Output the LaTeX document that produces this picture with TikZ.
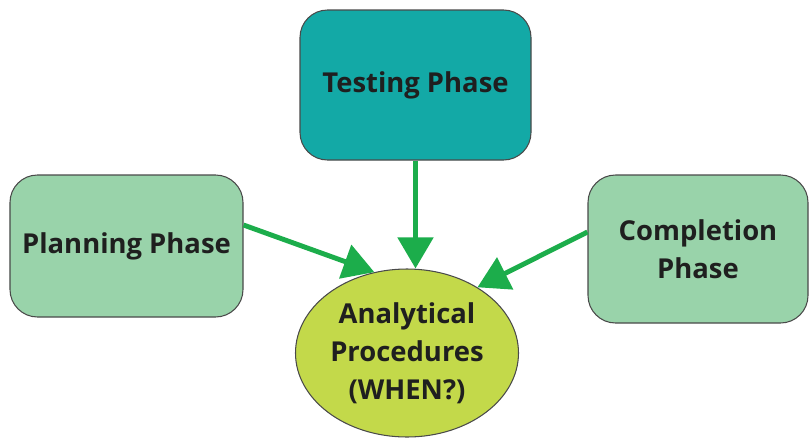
\documentclass[tikz,border=0pt]{standalone}
\usepackage{fontspec}
\setmainfont{Open Sans}
\usepackage{tikz}
\usetikzlibrary{calc}
\usetikzlibrary{arrows.meta}
\usetikzlibrary{shapes.geometric}
\definecolor{tealbox}{HTML}{13A9A6}
\definecolor{mintbox}{HTML}{99D3AA}
\definecolor{limeoval}{HTML}{C3D94A}
\definecolor{arrowgreen}{HTML}{1CAD4B}
\definecolor{edgegray}{HTML}{4A4A4A}
\tikzset{
	phasestyle/.style={rectangle,rounded corners=0.55cm,draw=edgegray,line width=0.6pt,text=black!88,font=\bfseries\fontsize{15.6}{21.5}\selectfont,align=center,inner sep=0pt},
	ovalstyle/.style={ellipse,draw=edgegray,line width=0.6pt,fill=limeoval,text=black!88,font=\bfseries\fontsize{15.6}{21.5}\selectfont,align=center,inner sep=0pt},
	linkstyle/.style={draw=arrowgreen,line width=2.8pt,-{Triangle[length=0.62cm,width=0.7cm]}}
}
\begin{document}
\begin{tikzpicture}
		\useasboundingbox (0,0) rectangle (16.22,8.82);
		\node[phasestyle,fill=tealbox,minimum width=4.62cm,minimum height=3.0cm] (test) at (8.31,7.12) {Testing Phase};
		\node[phasestyle,fill=mintbox,minimum width=4.66cm,minimum height=2.84cm] (plan) at (2.53,3.9) {Planning Phase};
		\node[phasestyle,fill=mintbox,minimum width=4.4cm,minimum height=2.96cm] (comp) at (13.96,3.84) {Completion\\Phase};
		\node[ovalstyle,minimum width=4.46cm,minimum height=3.36cm] (ana) at (8.14,1.76) {Analytical\\Procedures\\(WHEN?)};
		\draw[linkstyle] (test.south) -- (test.south |- ana.north);
		\draw[linkstyle] ($(plan.east)+(0,0.42)$) -- (ana.112);
		\draw[linkstyle] ($(comp.west)+(0,0.34)$) -- (ana.43);
		\end{tikzpicture}
\end{document}
